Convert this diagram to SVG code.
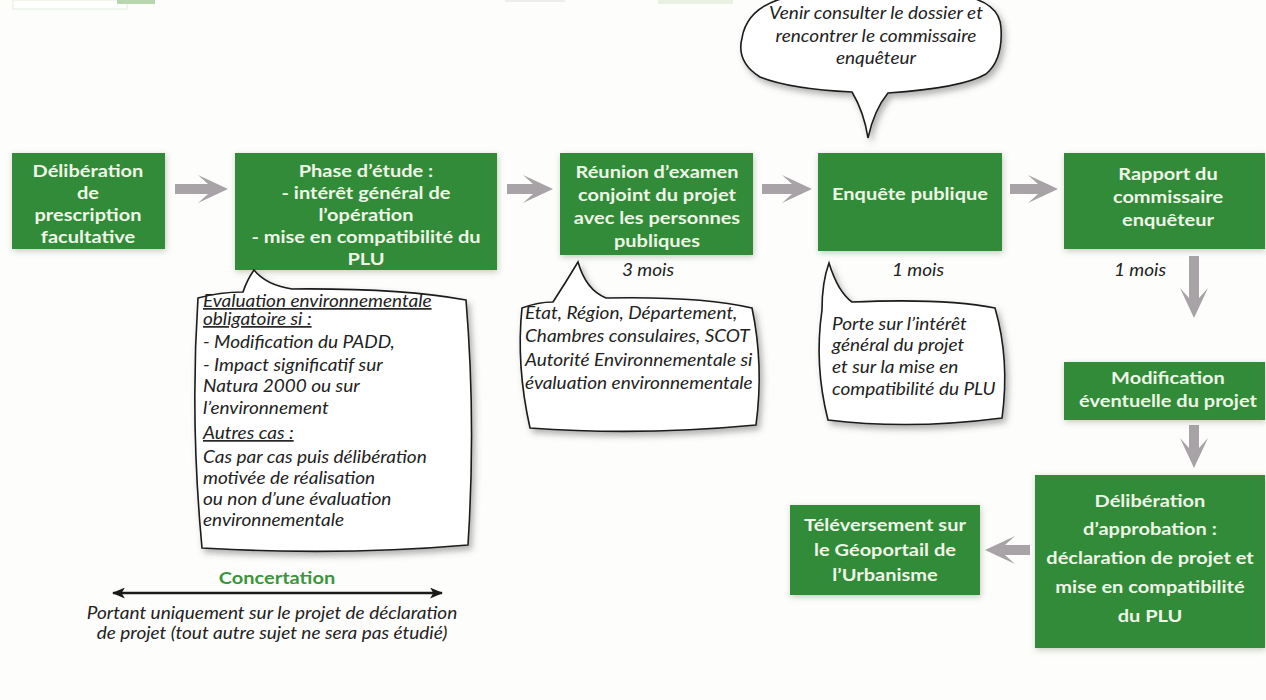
<svg xmlns="http://www.w3.org/2000/svg" width="1266" height="700" viewBox="0 0 1266 700">
<defs>
<filter id="glow" x="-10%" y="-10%" width="125%" height="130%">
<feGaussianBlur in="SourceAlpha" stdDeviation="3"/>
<feOffset dx="1" dy="2" result="b"/>
<feFlood flood-color="#7d8c70" flood-opacity="0.45"/>
<feComposite in2="b" operator="in"/>
<feMerge><feMergeNode/><feMergeNode in="SourceGraphic"/></feMerge>
</filter>
<filter id="bshadow" x="-10%" y="-10%" width="125%" height="130%">
<feGaussianBlur in="SourceAlpha" stdDeviation="3"/>
<feOffset dx="3" dy="4" result="b"/>
<feFlood flood-color="#555" flood-opacity="0.45"/>
<feComposite in2="b" operator="in"/>
<feMerge><feMergeNode/><feMergeNode in="SourceGraphic"/></feMerge>
</filter>
<marker id="ah" viewBox="0 0 12 10" refX="11" refY="5" markerWidth="13" markerHeight="11" markerUnits="userSpaceOnUse" orient="auto-start-reverse">
<path d="M0,0 L12,5 L0,10 L3,5 Z" fill="#1a1a1a"/>
</marker>
</defs>
<style>
text{transform-box:fill-box;transform-origin:50% 50%;transform:scaleY(0.88)}
.box{fill:#338b39;filter:url(#glow)}
.nt{font-family:Lato,"Liberation Sans",sans-serif;font-weight:700;font-size:20px;fill:#eef5e6;text-anchor:middle;dominant-baseline:central}
.it{font-family:Lato,"Liberation Sans",sans-serif;font-style:italic;font-size:19px;fill:#222}
.mid{text-anchor:middle}
.u{text-decoration:underline}
.bub{fill:#fff;stroke:#1a1a1a;stroke-width:1.6;filter:url(#bshadow)}
.ga{fill:#a8a3a7}
</style>
<rect width="1266" height="700" fill="#fdfdfb"/>
<g id="edge-remnants">
<rect x="13" y="0" width="114" height="9" fill="#fff" stroke="#e3eedc" stroke-width="1"/>
<rect x="117" y="0" width="38" height="4" fill="#b9d7ae"/>
<rect x="505" y="0" width="60" height="2" fill="#eeeeee"/>
<rect x="658" y="0" width="75" height="4" fill="#e8f1e2"/>
</g>

<g id="connectors">
<path class="ga" d="M175,184 L208,184 L198,175 L228,189 L198,203 L208,194 L175,194 Z"/>
<path class="ga" d="M507,184 L533,184 L523,175 L553,189 L523,203 L533,194 L507,194 Z"/>
<path class="ga" d="M762,184 L792,184 L782,175 L812,189 L782,203 L792,194 L762,194 Z"/>
<path class="ga" d="M1010,184 L1038,184 L1028,175 L1058,189 L1028,203 L1038,194 L1010,194 Z"/>
<path class="ga" d="M1189,256 L1189,298 L1180,288 L1194,318 L1208,288 L1199,298 L1199,256 Z"/>
<path class="ga" d="M1189,425 L1189,448 L1180,438 L1194,468 L1208,438 L1199,448 L1199,425 Z"/>
<path class="ga" d="M1030,545 L1005,545 L1015,536 L985,550 L1015,564 L1005,555 L1030,555 Z"/>
<line x1="113" y1="593" x2="442" y2="593" stroke="#1a1a1a" stroke-width="2.5" marker-start="url(#ah)" marker-end="url(#ah)"/>
</g>

<g id="n1">
<rect class="box" x="12" y="153" width="153" height="96"/>
<text class="nt" x="88" y="170">Délibération</text>
<text class="nt" x="88" y="192">de</text>
<text class="nt" x="88" y="214">prescription</text>
<text class="nt" x="88" y="236">facultative</text>
</g>
<g id="n2">
<rect class="box" x="235" y="153" width="262" height="117"/>
<text class="nt" x="366" y="170">Phase d’étude :</text>
<text class="nt" x="366" y="192">- intérêt général de</text>
<text class="nt" x="366" y="214">l’opération</text>
<text class="nt" x="366" y="236">- mise en compatibilité du</text>
<text class="nt" x="366" y="258">PLU</text>
</g>
<g id="n3">
<rect class="box" x="560" y="153" width="193" height="102"/>
<text class="nt" x="657" y="171">Réunion d’examen</text>
<text class="nt" x="657" y="194">conjoint du projet</text>
<text class="nt" x="657" y="217">avec les personnes</text>
<text class="nt" x="657" y="240">publiques</text>
</g>
<g id="n4">
<rect class="box" x="818" y="153" width="184" height="98"/>
<text class="nt" x="910" y="193">Enquête publique</text>
</g>
<g id="n5">
<rect class="box" x="1064" y="153" width="201" height="96"/>
<text class="nt" x="1168" y="173">Rapport du</text>
<text class="nt" x="1168" y="196">commissaire</text>
<text class="nt" x="1168" y="219">enquêteur</text>
</g>
<g id="n6">
<rect class="box" x="1064" y="362" width="201" height="58"/>
<text class="nt" x="1168" y="377">Modification</text>
<text class="nt" x="1168" y="400">éventuelle du projet</text>
</g>
<g id="n7">
<rect class="box" x="1035" y="475" width="230" height="173"/>
<text class="nt" x="1150" y="500">Délibération</text>
<text class="nt" x="1150" y="528">d’approbation :</text>
<text class="nt" x="1150" y="557">déclaration de projet et</text>
<text class="nt" x="1150" y="586">mise en compatibilité</text>
<text class="nt" x="1150" y="615">du PLU</text>
</g>
<g id="n8">
<rect class="box" x="790" y="505" width="190" height="90"/>
<text class="nt" x="885" y="524">Téléversement sur</text>
<text class="nt" x="885" y="549">le Géoportail de</text>
<text class="nt" x="885" y="574">l’Urbanisme</text>
</g>

<g id="bubble-top">
<path class="bub" d="M852,92 Q790,89 760,77 Q736,62 742,38 Q748,2 800,-5 Q870,-12 960,-5 Q1000,2 1001,28 Q1003,60 986,74 Q962,88 888,93 Q874,110 868,138 Q864,112 852,92 Z"/>
<text class="it mid" x="876" y="20">Venir consulter le dossier et</text>
<text class="it mid" x="876" y="43">rencontrer le commissaire</text>
<text class="it mid" x="876" y="65">enquêteur</text>
</g>
<g id="bubble-etude">
<path class="bub" d="M243,292 Q247,280 254,270 Q266,285 292,289 Q400,288 466,300 Q476,420 468,545 Q340,556 202,548 Q190,420 198,298 Q220,292 243,292 Z"/>
<text class="it u" x="203" y="308">Evaluation environnementale</text>
<text class="it u" x="203" y="326">obligatoire si :</text>
<text class="it" x="203" y="349">- Modification du PADD,</text>
<text class="it" x="203" y="372">- Impact significatif sur</text>
<text class="it" x="203" y="393">Natura 2000 ou sur</text>
<text class="it" x="203" y="415">l’environnement</text>
<text class="it u" x="203" y="440">Autres cas :</text>
<text class="it" x="203" y="464">Cas par cas puis délibération</text>
<text class="it" x="203" y="485">motivée de réalisation</text>
<text class="it" x="203" y="506">ou non d’une évaluation</text>
<text class="it" x="203" y="527">environnementale</text>
</g>
<g id="bubble-ppa">
<path class="bub" d="M553,302 Q566,282 578,262 Q586,290 606,298 Q700,296 752,308 Q764,365 756,425 Q640,436 530,428 Q516,365 522,308 Q538,302 553,302 Z"/>
<text class="it" x="525" y="320">Etat, Région, Département,</text>
<text class="it" x="525" y="343">Chambres consulaires, SCOT</text>
<text class="it" x="525" y="367">Autorité Environnementale si</text>
<text class="it" x="525" y="390">évaluation environnementale</text>
</g>
<g id="bubble-enquete">
<path class="bub" d="M822,310 Q822,282 829,263 Q838,292 852,302 Q945,298 995,308 Q1010,360 1002,418 Q910,430 828,420 Q814,365 822,310 Z"/>
<text class="it" x="832" y="331">Porte sur l’intérêt</text>
<text class="it" x="832" y="352">général du projet</text>
<text class="it" x="832" y="374">et sur la mise en</text>
<text class="it" x="832" y="396">compatibilité du PLU</text>
</g>

<g id="durations">
<text class="it mid" x="648" y="277">3 mois</text>
<text class="it mid" x="918" y="277">1 mois</text>
<text class="it mid" x="1140" y="277">1 mois</text>
</g>

<g id="concertation">
<text x="277" y="585" text-anchor="middle" font-family="Lato, 'Liberation Sans', sans-serif" font-weight="700" font-size="20" fill="#3b963b">Concertation</text>
<text class="it mid" x="272" y="620">Portant uniquement sur le projet de déclaration</text>
<text class="it mid" x="272" y="640">de projet (tout autre sujet ne sera pas étudié)</text>
</g>
</svg>
